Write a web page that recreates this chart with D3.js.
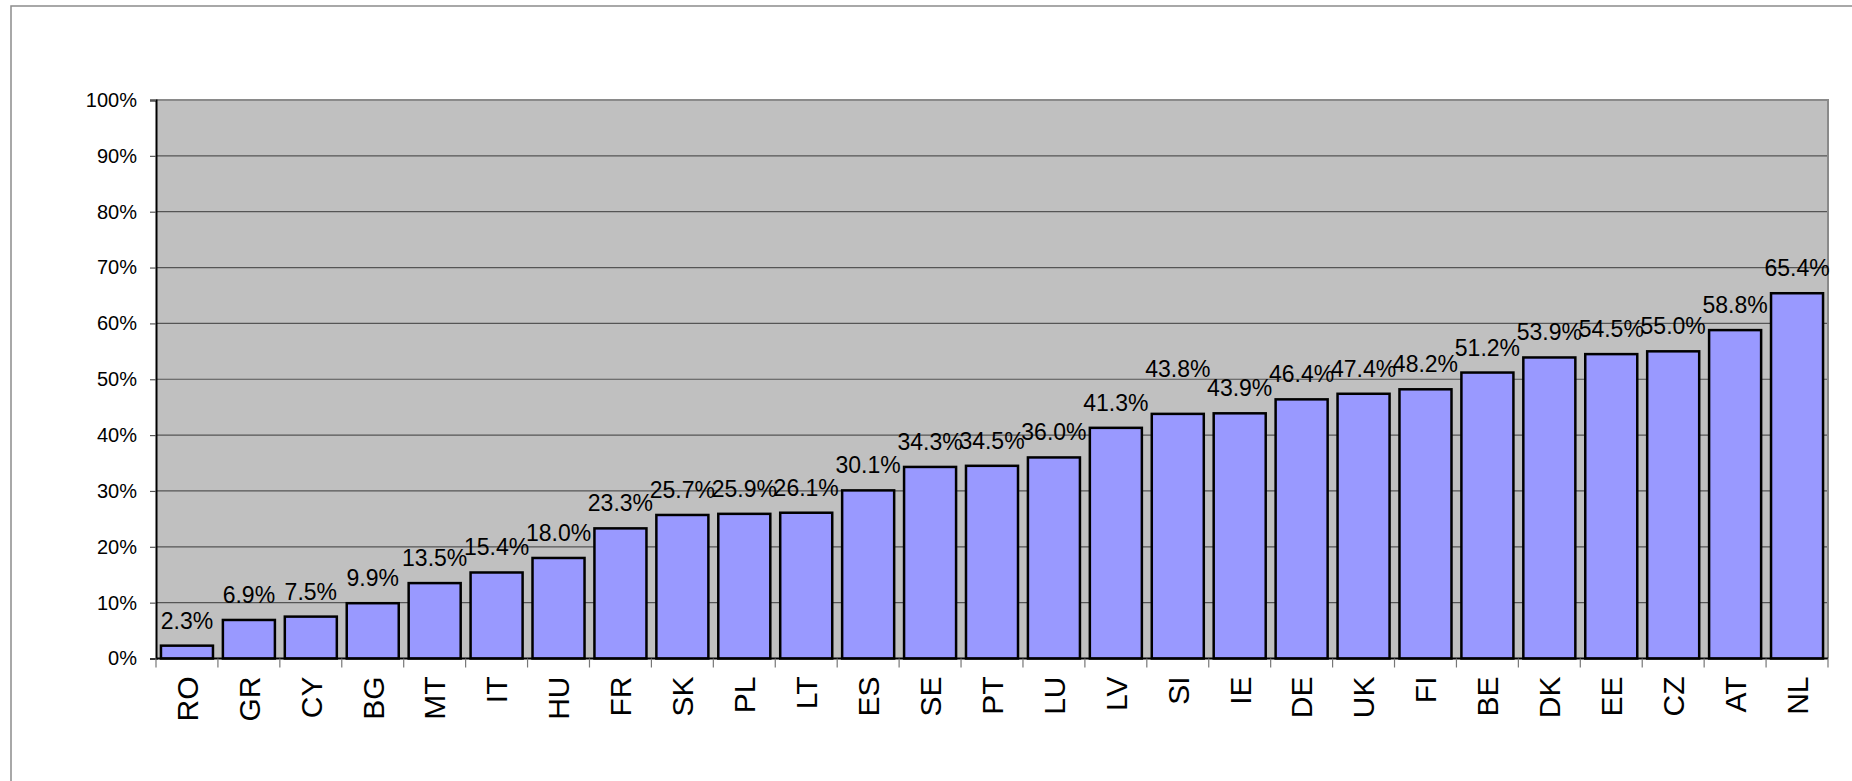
<!DOCTYPE html>
<html>
<head>
<meta charset="utf-8">
<script src="https://cdn.jsdelivr.net/npm/d3@7"></script>
<style>
  body { margin: 0; background: #fff; }
  svg { display: block; font-family: "Liberation Sans", Arial, sans-serif; }
</style>
</head>
<body>
<svg width="1852" height="781"></svg>
<script>
var countries = ["RO", "GR", "CY", "BG", "MT", "IT", "HU", "FR", "SK", "PL", "LT", "ES", "SE", "PT",
    "LU", "LV", "SI", "IE", "DE", "UK", "FI", "BE", "DK", "EE", "CZ", "AT", "NL"]
var shares = [2.3, 6.9, 7.5, 9.9, 13.5, 15.4, 18.0, 23.3, 25.7, 25.9, 26.1, 30.1, 34.3, 34.5,
    36.0, 41.3, 43.8, 43.9, 46.4, 47.4, 48.2, 51.2, 53.9, 54.5, 55.0, 58.8, 65.4]
var yTicks = [0, 10, 20, 30, 40, 50, 60, 70, 80, 90, 100]

// the SI label sits higher than the others in the original
var labelNudge = { SI: 20 }

var svg = d3.select("svg")
var plotLeft = 156, plotRight = 1828, plotTop = 100, plotBottom = 658.5

// outer frame
svg.append("rect")
    .attr("x", 11).attr("y", 6)
    .attr("width", 1900).attr("height", 900)
    .attr("fill", "none")
    .attr("stroke", "#8c8c8c")
    .attr("stroke-width", 1.5)

var x = d3.scaleBand()
    .domain(countries)
    .range([plotLeft, plotRight])
    .paddingInner(0.16)
    .paddingOuter(0.08)

var y = d3.scaleLinear()
    .domain([0, 100])
    .range([plotBottom, plotTop])

// plot area
svg.append("rect")
    .attr("x", plotLeft).attr("y", plotTop)
    .attr("width", plotRight - plotLeft).attr("height", plotBottom - plotTop)
    .attr("fill", "#c0c0c0")

// gridlines
svg.append("g")
    .selectAll("line")
    .data(yTicks.slice(1, -1))
    .enter().append("line")
    .attr("x1", plotLeft).attr("x2", plotRight)
    .attr("y1", function (d) { return y(d) })
    .attr("y2", function (d) { return y(d) })
    .attr("stroke", "#555")
    .attr("stroke-width", 1.2)

// top and right borders of plot
svg.append("path")
    .attr("d", "M" + plotLeft + "," + plotTop + "H" + plotRight + "V" + plotBottom)
    .attr("fill", "none")
    .attr("stroke", "#8a8a8a")
    .attr("stroke-width", 2)

// bars
svg.append("g")
    .selectAll("rect")
    .data(shares)
    .enter().append("rect")
    .attr("x", function (d, i) { return x(countries[i]) })
    .attr("y", function (d) { return y(d) })
    .attr("width", x.bandwidth())
    .attr("height", function (d) { return y(0) - y(d) })
    .attr("fill", "#9999ff")
    .attr("stroke", "#000")
    .attr("stroke-width", 2.5)

// value labels
svg.append("g")
    .selectAll("text")
    .data(shares)
    .enter().append("text")
    .attr("x", function (d, i) { return x(countries[i]) + x.bandwidth() / 2 })
    .attr("y", function (d, i) { return y(d) - 17 - (labelNudge[countries[i]] || 0) })
    .attr("text-anchor", "middle")
    .attr("font-size", 23)
    .attr("fill", "#000")
    .text(function (d) { return d.toFixed(1) + "%" })

// y axis
var yAxis = svg.append("g")
    .attr("transform", "translate(" + plotLeft + ",0)")
    .call(d3.axisLeft(y).tickValues(yTicks).tickSize(6).tickPadding(13)
        .tickFormat(function (d) { return d + "%" }))
yAxis.select(".domain").attr("stroke", "#000").attr("stroke-width", 2)
yAxis.selectAll(".tick line").attr("stroke", "#555").attr("stroke-width", 1.2)
yAxis.selectAll("text")
    .attr("font-size", 20)
    .attr("font-family", "Liberation Sans, Arial, sans-serif")
    .attr("fill", "#000")

// x axis
var xAxis = svg.append("g")
    .attr("transform", "translate(0," + plotBottom + ")")
xAxis.append("line")
    .attr("x1", plotLeft).attr("x2", plotRight)
    .attr("stroke", "#000").attr("stroke-width", 2)

var step = x.step()
xAxis.selectAll(".sep")
    .data(d3.range(countries.length + 1))
    .enter().append("line")
    .attr("class", "sep")
    .attr("x1", function (i) { return plotLeft + i * step })
    .attr("x2", function (i) { return plotLeft + i * step })
    .attr("y1", 0).attr("y2", 9)
    .attr("stroke", "#777").attr("stroke-width", 1.2)

xAxis.selectAll("text")
    .data(countries)
    .enter().append("text")
    .attr("transform", function (d) {
        return "translate(" + (x(d) + x.bandwidth() / 2) + ",18) rotate(-90)"
    })
    .attr("text-anchor", "end")
    .attr("dy", "0.36em")
    .attr("font-size", 30)
    .attr("fill", "#000")
    .text(function (d) { return d })
</script>
</body>
</html>
